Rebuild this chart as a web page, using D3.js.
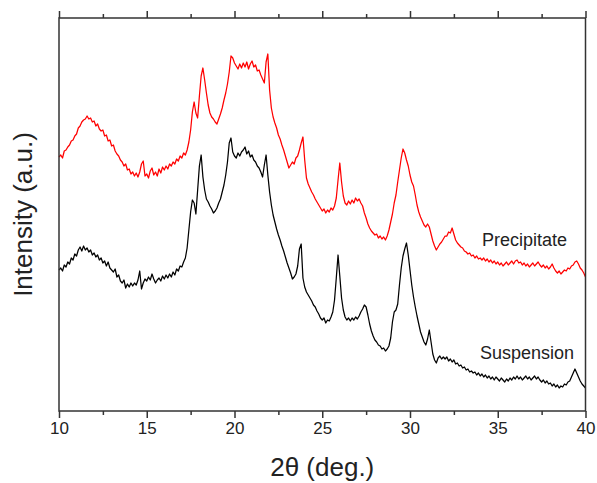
<!DOCTYPE html>
<html>
<head>
<meta charset="utf-8">
<script src="https://cdn.jsdelivr.net/npm/d3@7"></script>
<style>
  html, body { margin: 0; padding: 0; background: #fff; }
  svg { display: block; font-family: "Liberation Sans", Arial, sans-serif; }
</style>
</head>
<body>
<svg id="chart" width="597" height="483"></svg>
<script>
// 2θ grid: 10.0° to 40.0° in 0.1° steps (one value per reading)
const thetaStart = 10, thetaStep = 0.1;

// Precipitate (red), intensity in arbitrary units
const precipitate = [
  254,256,253,260,261,264,266,270,271,275,
  277,283,285,289,291,292,295,292,293,289,
  290,285,287,282,280,281,275,276,270,271,
  265,266,260,257,255,251,249,245,247,241,
  242,237,239,235,238,234,239,247,250,235,
  237,233,240,243,236,239,235,242,238,244,
  241,245,242,247,245,249,247,252,250,255,
  253,258,256,261,269,281,299,309,298,293,
  315,335,343,331,318,306,298,294,292,289,
  287,292,297,303,311,318,327,339,355,353,
  348,345,342,347,343,348,344,349,342,347,
  350,344,346,340,341,336,332,328,349,357,
  321,303,294,288,283,276,272,266,261,255,
  249,243,246,249,247,253,255,261,268,274,
  251,233,227,223,219,216,212,209,206,203,
  200,202,198,201,199,203,201,205,213,231,
  248,229,215,208,206,210,207,211,208,213,
  210,212,208,205,198,193,187,183,180,178,
  176,177,173,175,172,174,171,175,181,189,
  197,208,216,229,241,253,262,258,251,245,
  236,229,225,216,206,199,194,190,186,184,
  187,184,177,170,165,161,164,167,169,172,
  175,175,179,178,183,177,171,168,166,164,
  163,160,159,157,158,155,156,153,155,152,
  153,151,153,150,152,149,151,148,150,147,
  149,146,148,145,147,149,146,148,150,147,
  150,151,148,149,146,148,145,147,144,146,
  148,145,147,149,146,144,146,143,145,142,
  144,147,143,140,138,140,137,139,141,140,
  143,142,145,146,149,150,147,143,141,138,
  134
];

// Suspension (black)
const suspension = [
  141,143,140,146,144,149,147,153,151,157,
  155,161,164,160,165,161,163,159,161,156,
  158,154,156,151,153,148,150,145,149,143,
  141,139,142,134,136,130,128,131,123,127,
  124,128,125,128,126,131,140,122,128,132,
  130,134,131,137,132,128,131,133,130,135,
  132,136,133,137,134,139,136,142,140,145,
  144,149,153,163,181,199,211,208,197,221,
  245,256,234,221,212,209,205,202,198,200,
  203,208,212,219,226,236,249,268,273,259,
  255,253,258,255,259,261,264,257,260,254,
  256,251,249,245,243,239,234,246,256,236,
  219,206,196,189,182,176,171,165,160,154,
  148,143,138,132,134,137,145,162,167,133,
  124,119,116,113,110,106,104,100,97,93,
  91,93,88,91,90,94,99,111,133,156,
  135,113,101,94,91,93,90,93,91,94,
  92,95,99,102,106,104,96,87,80,75,
  71,69,66,65,62,63,60,62,65,73,
  89,99,101,107,126,143,155,162,168,156,
  141,126,114,104,95,87,79,74,69,66,
  72,81,69,57,51,48,53,55,52,54,
  52,54,50,52,49,51,47,48,45,46,
  43,44,41,42,39,40,38,39,36,38,
  35,37,34,36,33,35,32,34,31,34,
  32,30,33,31,29,32,30,33,31,34,
  32,35,32,34,31,33,35,32,34,31,
  33,35,32,34,31,29,31,28,30,27,
  28,25,27,24,26,23,25,24,27,26,
  29,30,34,38,42,38,34,30,27,25,
  23
];

const majorTicks = [10, 15, 20, 25, 30, 35, 40];
const minorTicks = [12.5, 17.5, 22.5, 27.5, 32.5, 37.5];
const seriesNames = ["Precipitate", "Suspension"];
const seriesColors = ["#ff0000", "#000000"];
const xTitle = "2θ (deg.)";
const yTitle = "Intensity (a.u.)";

const svg = d3.select("#chart");
const L = 59, R = 585.5, T = 18, B = 411;

const x = d3.scaleLinear().domain([10, 40]).range([L, R]);
const y = d3.scaleLinear().domain([0, 393]).range([B, T]);

const toPoints = arr => arr.map((v, i) => [thetaStart + i * thetaStep, v]);
const line = d3.line().x(d => x(d[0])).y(d => y(d[1]));

const plot = svg.append("g");
[[suspension, seriesColors[1]], [precipitate, seriesColors[0]]].forEach(([arr, col]) => {
  plot.append("path")
    .datum(toPoints(arr))
    .attr("fill", "none")
    .attr("stroke", col)
    .attr("stroke-width", 1.25)
    .attr("stroke-linejoin", "round")
    .attr("d", line);
});

const axisColor = "#333";
// frame
svg.append("rect")
  .attr("x", L).attr("y", T)
  .attr("width", R - L).attr("height", B - T)
  .attr("fill", "none").attr("stroke", axisColor).attr("stroke-width", 1.5);

function styleAxis(g) {
  g.select(".domain").remove();
  g.selectAll(".tick line").attr("stroke", axisColor).attr("stroke-width", 1.5);
  g.selectAll(".tick text").attr("fill", "#222")
    .style("font-family", '"Liberation Sans", Arial, sans-serif')
    .style("font-size", "17px");
}

svg.append("g").attr("transform", `translate(0,${B})`)
  .call(d3.axisBottom(x).tickValues(majorTicks).tickSize(7).tickPadding(4).tickFormat(d3.format("d")))
  .call(styleAxis);
svg.append("g").attr("transform", `translate(0,${B})`)
  .call(d3.axisBottom(x).tickValues(minorTicks).tickSize(4).tickFormat(""))
  .call(styleAxis);
svg.append("g").attr("transform", `translate(0,${T})`)
  .call(d3.axisTop(x).tickValues(majorTicks).tickSize(7).tickFormat(""))
  .call(styleAxis);
svg.append("g").attr("transform", `translate(0,${T})`)
  .call(d3.axisTop(x).tickValues(minorTicks).tickSize(4).tickFormat(""))
  .call(styleAxis);

// series labels
svg.append("text").attr("x", 482).attr("y", 246)
  .attr("font-size", 18).attr("fill", "#222").text(seriesNames[0]);
svg.append("text").attr("x", 480).attr("y", 359)
  .attr("font-size", 18).attr("fill", "#222").text(seriesNames[1]);

// axis titles
svg.append("text").attr("x", (L + R) / 2).attr("y", 476)
  .attr("text-anchor", "middle").attr("font-size", 26).attr("fill", "#222").text(xTitle);
svg.append("text")
  .attr("transform", `translate(32,${(T + B) / 2}) rotate(-90)`)
  .attr("text-anchor", "middle").attr("font-size", 26).attr("fill", "#222").text(yTitle);
</script>
</body>
</html>
